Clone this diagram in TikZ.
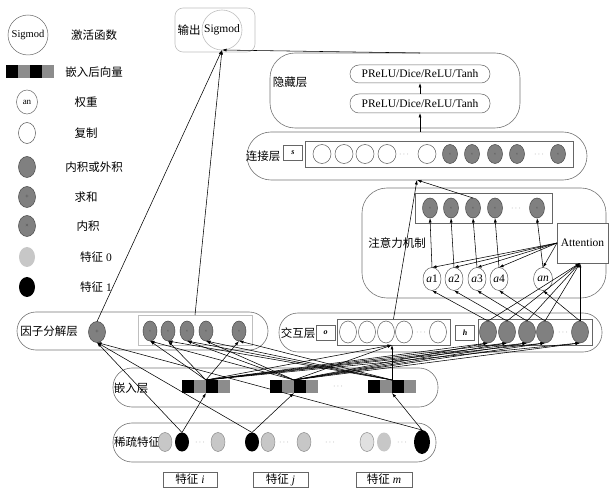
\documentclass[tikz,border=0pt]{standalone}
\usepackage{fontspec}
\setmainfont{Liberation Serif}
\newfontfamily\cjk{Noto Sans CJK SC}
\usetikzlibrary{shapes.geometric,arrows.meta,calc}
\begin{document}
\begin{tikzpicture}[x=1pt,y=-1pt,
  every node/.style={inner sep=0pt, outer sep=0pt},
  lyr/.style={draw=black!55, line width=0.6pt, rounded corners=#1},
  lab/.style={font=\cjk\fontsize{11.5}{11.5}\selectfont},
  txt/.style={font=\fontsize{11.5}{11.5}\selectfont},
  gc/.style={ellipse, draw=black!70, fill=black!50, minimum width=15pt, minimum height=20pt, line width=0.5pt, font=\fontsize{4}{4}\selectfont, text=black!75},
  wc/.style={ellipse, draw=black!65, fill=white, minimum width=17pt, minimum height=21pt, line width=0.5pt},
  lc/.style={ellipse, fill=black!22, minimum width=14pt, minimum height=19pt},
  bc/.style={ellipse, fill=black, minimum width=14pt, minimum height=19pt},
  sq/.style={minimum width=12pt, minimum height=13pt},
  bx/.style={draw=black!60, line width=0.5pt},
  ln/.style={line width=0.55pt, -{Latex[length=4.5pt,width=3pt]}},
  dts/.style={text=black!50, font=\fontsize{8}{8}\selectfont},
  vl/.style={bx, font=\bfseries\itshape\fontsize{8}{8}\selectfont, minimum width=19pt, minimum height=15pt},
]
\useasboundingbox (0,0) rectangle (611,489);

% ---------------- legend ----------------
\node[circle, draw=black!60, line width=0.5pt, minimum size=40pt, font=\fontsize{10.5}{10.5}\selectfont] (lsig) at (28,35) {Sigmod};
\node[lab] (lsigt) at (94,35) {激活函数};
\node[sq, fill=black] (lq1) at (12,72) {};
\node[sq, fill=black!45] (lq2) at (24,72) {};
\node[sq, fill=black] (lq3) at (36,72) {};
\node[sq, fill=black!45] (lq4) at (48,72) {};
\node[lab] (lqt) at (94,72) {嵌入后向量};
\node[ellipse, draw=black!60, line width=0.5pt, minimum width=21pt, minimum height=24pt, font=\fontsize{9}{9}\selectfont] (lan) at (27,102) {an};
\node[lab] (lant) at (86,102) {权重};
\node[wc] (lw) at (27,133) {};
\node[lab] (lwt) at (86,133) {复制};
\node[gc, minimum width=17pt, minimum height=21pt] (lg) at (27,167) {};
\node[lab] (lgt) at (94,167) {内积或外积};
\node[gc, minimum width=17pt, minimum height=21pt, font=\fontsize{6}{6}\selectfont] (lp) at (27,197) {+};
\node[lab] (lpt) at (86,197) {求和};
\node[gc, minimum width=17pt, minimum height=21pt, font=\fontsize{6}{6}\selectfont] (lx) at (27,226) {×};
\node[lab] (lxt) at (88,226) {内积};
\node[lc, minimum width=16pt, minimum height=20pt] (ll) at (27,257) {};
\node[txt] (llt) at (96,257) {{\cjk 特征} 0};
\node[bc, minimum width=16pt, minimum height=20pt] (lb) at (27,287) {};
\node[txt] (lbt) at (96,287) {{\cjk 特征} 1};

% ---------------- output ----------------
\node[draw=black!25, line width=0.6pt, rounded corners=8pt, minimum width=80pt, minimum height=44pt] (outbox) at (215,30) {};
\node[circle, draw=black!25, line width=0.6pt, minimum size=40pt, txt] (osig) at (222,30) {Sigmod};
\node[lab] (outt) at (189,30) {输出};

% ---------------- hidden layer ----------------
\node[lyr=25pt, minimum width=250pt, minimum height=75pt] (hid) at (395,90.5) {};
\node[lab] (hidt) at (290,82) {隐藏层};
\node[bx, rounded corners=9pt, minimum width=140pt, minimum height=18pt, txt] (up) at (420,74) {PReLU/Dice/ReLU/Tanh};
\node[bx, rounded corners=9pt, minimum width=140pt, minimum height=19pt, txt] (lo) at (420,103.5) {PReLU/Dice/ReLU/Tanh};

% ---------------- connect layer ----------------
\node[lyr=24pt, minimum width=340pt, minimum height=48pt] (con) at (417,156) {};
\node[lab] (cont) at (263,156) {连接层};
\node[vl] (sb) at (293,152.5) {s};
\node[bx, minimum width=268pt, minimum height=26pt] (ccb) at (439,154) {};
\node[wc, minimum width=18pt, minimum height=19pt] (c1) at (322,154) {};
\node[wc, minimum width=18pt, minimum height=19pt] (c2) at (344,154) {};
\node[wc, minimum width=18pt, minimum height=19pt] (c3) at (365,154) {};
\node[wc, minimum width=18pt, minimum height=19pt] (c4) at (387,154) {};
\node[dts] (cd1) at (404,155) {$\cdots$};
\node[wc, minimum width=18pt, minimum height=19pt] (c5) at (427,154) {};
\node[gc, minimum height=19pt] (d1) at (450,154) {×};
\node[gc, minimum height=19pt] (d2) at (472,154) {×};
\node[gc, minimum height=19pt] (d3) at (495,154) {×};
\node[gc, minimum height=19pt] (d4) at (517,154) {×};
\node[dts] (cd2) at (539,155) {$\cdots$};
\node[gc, minimum height=19pt] (d5) at (558,154) {×};

% ---------------- attention ----------------
\node[lyr=25pt, minimum width=244pt, minimum height=110pt] (att) at (484,243) {};
\node[lab] (attt) at (397,243) {注意力机制};
\node[bx, minimum width=137pt, minimum height=30pt] (acb) at (483.5,208) {};
\node[gc] (g1) at (430,208) {×};
\node[gc] (g2) at (451,208) {×};
\node[gc] (g3) at (473,208) {×};
\node[gc] (g4) at (495,208) {×};
\node[dts] (gd) at (516,209) {$\cdots$};
\node[gc] (g5) at (537,208) {×};
\node[bx, fill=white, minimum width=51pt, minimum height=40pt, txt] (attn) at (582.5,243) {Attention};
\node[wc, minimum width=18pt, minimum height=23pt, txt] (a1) at (432,279) {\textit{a}1};
\node[wc, minimum width=18pt, minimum height=23pt, txt] (a2) at (454,279) {\textit{a}2};
\node[wc, minimum width=18pt, minimum height=23pt, txt] (a3) at (477,279) {\textit{a}3};
\node[wc, minimum width=18pt, minimum height=23pt, txt] (a4) at (499,279) {\textit{a}4};
\node[wc, minimum width=19pt, minimum height=23pt, txt] (a5) at (543,279) {\textit{an}};

% ---------------- interaction layer ----------------
\node[lyr=19pt, minimum width=323pt, minimum height=39pt] (int) at (440.5,332.5) {};
\node[lab] (intt) at (298,333) {交互层};
\node[vl] (ob) at (325.5,332.5) {o};
\node[bx, minimum width=113pt, minimum height=26pt] (ocb) at (393.5,332) {};
\node[wc, minimum width=17pt, minimum height=22pt] (o1) at (348,332) {};
\node[wc, minimum width=17pt, minimum height=22pt] (o2) at (367,332) {};
\node[wc, minimum width=17pt, minimum height=22pt] (o3) at (386,332) {};
\node[wc, minimum width=17pt, minimum height=22pt] (o4) at (404,332) {};
\node[dts] (od) at (421,333) {$\cdots$};
\node[wc, minimum width=17pt, minimum height=22pt] (o5) at (438,332) {};
\node[vl] (hb) at (465,332.5) {h};
\node[bx, minimum width=114pt, minimum height=26pt] (hcb) at (535,332) {};
\node[gc, minimum width=17pt, minimum height=22pt] (h1) at (488,332) {};
\node[gc, minimum width=17pt, minimum height=22pt] (h2) at (507,332) {};
\node[gc, minimum width=17pt, minimum height=22pt] (h3) at (527,332) {};
\node[gc, minimum width=17pt, minimum height=22pt] (h4) at (545,332) {};
\node[dts] (hd) at (563,333) {$\cdots$};
\node[gc, minimum width=17pt, minimum height=22pt] (h5) at (580,332) {};

% ---------------- factorisation layer ----------------
\node[lyr=19pt, minimum width=251pt, minimum height=38pt] (fac) at (142.5,331) {};
\node[lab] (fact) at (49,331) {因子分解层};
\node[gc, minimum width=17pt, minimum height=21pt, font=\fontsize{6}{6}\selectfont] (plus) at (97,332) {+};
\node[draw=black!25, line width=0.5pt, minimum width=114pt, minimum height=30pt] (xb) at (195,330) {};
\node[gc, minimum width=14pt] (x1) at (150,331) {×};
\node[gc, minimum width=14pt] (x2) at (168,331) {×};
\node[gc, minimum width=14pt] (x3) at (187,331) {×};
\node[gc, minimum width=14pt] (x4) at (206,331) {×};
\node[gc, minimum width=14pt] (x5) at (239,331) {×};

% ---------------- embedding layer ----------------
\node[lyr=19pt, minimum width=325pt, minimum height=39pt] (emb) at (275.5,387.5) {};
\node[lab] (embt) at (131,388) {嵌入层};
\node[sq, fill=black] (e1a) at (188,386.5) {};
\node[sq, fill=black!45] (e1b) at (200,386.5) {};
\node[sq, fill=black] (e1c) at (212,386.5) {};
\node[sq, fill=black!45] (e1d) at (224,386.5) {};
\node[sq, fill=black] (e2a) at (276,386.5) {};
\node[sq, fill=black!45] (e2b) at (288,386.5) {};
\node[sq, fill=black] (e2c) at (300,386.5) {};
\node[sq, fill=black!45] (e2d) at (312,386.5) {};
\node[dts] (ed) at (338,387) {$\cdots$};
\node[sq, fill=black] (e3a) at (374,386.5) {};
\node[sq, fill=black!45] (e3b) at (386,386.5) {};
\node[sq, fill=black] (e3c) at (398,386.5) {};
\node[sq, fill=black!45] (e3d) at (410,386.5) {};

% ---------------- sparse features ----------------
\node[lyr=19pt, minimum width=323pt, minimum height=39pt] (sp) at (274.5,442.5) {};
\node[lab] (spt) at (137,442) {稀疏特征};
\node[lc, draw=black!50, line width=0.4pt] (f1) at (165,442) {};
\node[bc] (f2) at (182,442) {};
\node[dts] (fd1) at (200,443) {$\cdots$};
\node[lc, draw=black!50, line width=0.4pt] (f3) at (218,442) {};
\node[bc] (f4) at (252,442) {};
\node[lc, draw=black!50, line width=0.4pt] (f5) at (268,442) {};
\node[dts] (fd2) at (284,443) {$\cdots$};
\node[lc, draw=black!50, line width=0.4pt] (f6) at (304,442) {};
\node[dts] (fd3) at (330,443) {$\cdots$};
\node[lc, draw=black!50, line width=0.4pt, fill=black!12] (f7) at (367,442) {};
\node[lc] (f8) at (384,442) {};
\node[dts] (fd4) at (402,443) {$\cdots$};
\node[bc, minimum width=16pt, minimum height=24pt] (f9) at (422,442) {};

\node[bx, minimum width=54pt, minimum height=15pt, txt] (fi) at (190,479.5) {{\cjk 特征} \textit{i}};
\node[bx, minimum width=55pt, minimum height=15pt, txt] (fj) at (280.5,479.5) {{\cjk 特征} \textit{j}};
\node[bx, minimum width=56pt, minimum height=15pt, txt] (fm) at (384,479.5) {{\cjk 特征} \textit{m}};

% ---------------- connectors ----------------
% sparse -> embedding
\draw[ln] (f2.north) -- (e1c.south west);
\draw[ln] (f4.north) -- (e2c.south west);
\draw[ln] (f9.north) -- (e3c.south west);
% sparse -> sum (first order)
\draw[ln] (f2.north) -- (plus.south);
\draw[ln] (f4.north) -- (plus.south);
\draw[ln] (f9.north) -- (plus.south);
% embedding -> inner products of factor layer
\draw[ln] (e1c.north west) -- (x1.south);
\draw[ln] (e2c.north west) -- (x1.south);
\draw[ln] (e1c.north west) -- (x2.south);
\draw[ln] (e3c.north west) -- (x2.south);
\draw[ln] (e2c.north west) -- (x3.south);
\draw[ln] (e3c.north west) -- (x3.south);
\draw[ln] (e2c.north west) -- (x4.south);
\draw[ln] (e3c.north west) -- (x4.south);
\draw[ln] (e1c.north west) -- (x5.south);
\draw[ln] (e3c.north west) -- (x5.south);
% embedding -> copy (o)
\draw[ln] (e1c.north west) -- (ocb.south -| e3c.north west);
\draw[ln] (e2c.north west) -- (ocb.south -| e3c.north west);
\draw[ln] (e3c.north west) -- (ocb.south -| e3c.north west);
% embedding -> products (h)
\foreach \k in {1,...,5}{
  \draw[ln] (e1c.north west) -- (h\k.south);
  \draw[ln] (e2c.north west) -- (h\k.south);
}
% h -> attention and weights
\foreach \k in {1,...,5}{
  \draw[ln] (h\k.north) -- (attn.south -| h5);
  \draw[ln] (h\k.north) -- (a\k.south);
  \draw[ln] (attn.west) -- (a\k.north);
  \draw[ln] (a\k.north) -- (g\k.south);
}
% to connect layer
\draw[ln] (g3.north) -- (con.south);
\draw[ln] (ocb.north) -- (con.south);
% hidden
\draw[ln] (lo.south |- con.north) -- (lo.south);
\draw[ln] (lo.north) -- (up.south);
% output
\draw[ln] (hid.north -| up) -- (osig.south);
\draw[ln] (plus.north) -- (osig.south);
\draw[ln] (xb.north) -- (osig.south);
\end{tikzpicture}
\end{document}
